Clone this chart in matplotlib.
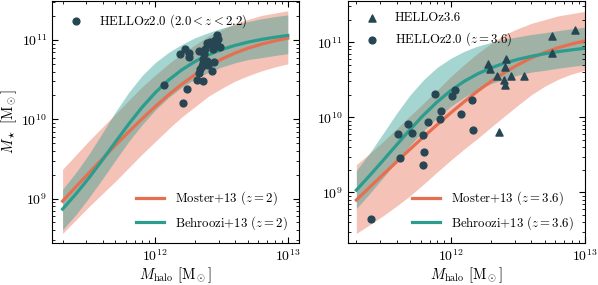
import numpy as np
import matplotlib
matplotlib.use("Agg")
import matplotlib.pyplot as plt

plt.rcParams["font.family"] = "serif"
plt.rcParams["font.serif"] = ["cmr10", "DejaVu Serif"]
plt.rcParams["mathtext.fontset"] = "cm"
plt.rcParams["axes.formatter.use_mathtext"] = True

ORANGE = "#e76f51"
TEAL = "#2a9d8f"
DARK = "#264653"

# halo mass grid (log10 Msun) shared by all model curves
log_mh = [11.3, 11.4, 11.5, 11.6, 11.7, 11.8, 11.9, 12.0, 12.1,
          12.2, 12.3, 12.4, 12.5, 12.6, 12.7, 12.8, 12.9, 13.0]

# z = 2 panel: log10 stellar mass
moster_z2 = [8.968, 9.147, 9.325, 9.501, 9.674, 9.843, 10.006, 10.162, 10.309,
             10.443, 10.564, 10.670, 10.760, 10.835, 10.897, 10.948, 10.989, 11.024]
moster_z2_hi = [9.37, 9.55, 9.73, 9.90, 10.07, 10.24, 10.41, 10.56, 10.70,
                10.83, 10.94, 11.05, 11.13, 11.21, 11.26, 11.31, 11.34, 11.37]
moster_z2_lo = [8.56, 8.73, 8.90, 9.06, 9.22, 9.39, 9.56, 9.72, 9.88,
                10.03, 10.16, 10.29, 10.39, 10.48, 10.55, 10.61, 10.66, 10.70]
behroozi_z2 = [8.867, 9.057, 9.263, 9.486, 9.716, 9.942, 10.152, 10.337, 10.495,
               10.625, 10.730, 10.813, 10.880, 10.932, 10.974, 11.008, 11.035, 11.058]
behroozi_z2_hi = [9.117, 9.327, 9.563, 9.826, 10.096, 10.342, 10.552, 10.717, 10.845,
                  10.945, 11.030, 11.093, 11.150, 11.192, 11.234, 11.268, 11.295, 11.318]
behroozi_z2_lo = [8.607, 8.797, 9.013, 9.246, 9.486, 9.722, 9.932, 10.117, 10.275,
                  10.405, 10.510, 10.593, 10.660, 10.712, 10.754, 10.778, 10.805, 10.828]

# z = 3.6 panel
moster_z36 = [8.900, 9.071, 9.241, 9.410, 9.577, 9.741, 9.901, 10.057, 10.206,
              10.347, 10.477, 10.595, 10.699, 10.789, 10.864, 10.926, 10.976, 11.018]
moster_z36_hi = [9.37, 9.52, 9.68, 9.85, 10.02, 10.19, 10.36, 10.54, 10.70,
                 10.85, 10.98, 11.10, 11.18, 11.25, 11.30, 11.35, 11.38, 11.41]
moster_z36_lo = [8.455, 8.571, 8.691, 8.820, 8.957, 9.111, 9.271, 9.427, 9.576,
                 9.717, 9.867, 10.015, 10.159, 10.299, 10.414, 10.506, 10.576, 10.628]
behroozi_z36 = [9.032, 9.227, 9.429, 9.635, 9.839, 10.031, 10.204, 10.353, 10.477,
                10.577, 10.657, 10.721, 10.771, 10.812, 10.846, 10.874, 10.898, 10.920]
behroozi_z36_hi = [9.292, 9.527, 9.789, 10.055, 10.299, 10.501, 10.664, 10.783, 10.877,
                   10.947, 10.997, 11.041, 11.071, 11.102, 11.126, 11.154, 11.178, 11.200]
behroozi_z36_lo = [8.787, 8.987, 9.199, 9.415, 9.629, 9.821, 9.994, 10.143, 10.267,
                   10.367, 10.447, 10.511, 10.561, 10.602, 10.626, 10.654, 10.678, 10.700]

# HELLO galaxies, 2.0 < z < 2.2 (log10 Mhalo, log10 Mstar)
hello_z2_mh = [12.066, 12.186, 12.224, 12.252, 12.257, 12.211, 12.237, 12.317, 12.362,
               12.332, 12.337, 12.368, 12.358, 12.388, 12.413, 12.377, 12.426, 12.438,
               12.443, 12.426, 12.362, 12.388, 12.350, 12.400, 12.463, 12.475, 12.468,
               12.488, 12.453, 12.332]
hello_z2_ms = [10.432, 10.823, 10.886, 10.840, 10.790, 10.201, 10.378, 10.495, 10.486,
               10.865, 10.630, 10.823, 10.756, 10.958, 10.979, 10.883, 10.937, 10.883,
               10.726, 10.613, 10.706, 10.739, 10.672, 10.685, 11.063, 11.009, 10.937,
               10.915, 11.000, 10.580]

# HELLOz2.0 run at z = 3.6
hello_z2at36_mh = [11.411, 11.612, 11.625, 11.682, 11.714, 11.798, 11.805, 11.798, 11.830,
                   11.883, 11.922, 11.932, 12.011, 12.036, 12.078, 12.158, 12.165]
hello_z2at36_ms = [8.641, 9.783, 9.465, 9.916, 9.792, 9.761, 9.539, 9.363, 9.938,
                   10.315, 9.983, 10.084, 10.283, 10.368, 10.040, 10.235, 9.827]

# HELLOz3.6
hello_z36_mh = [12.281, 12.294, 12.343, 12.413, 12.403, 12.400, 12.403, 12.448, 12.546,
                12.361, 12.752, 12.757, 12.928]
hello_z36_ms = [10.704, 10.647, 10.545, 10.780, 10.668, 10.491, 10.425, 10.545, 10.545,
                9.805, 11.076, 10.859, 11.165]


def p(v):
    return 10 ** np.asarray(v)


fig = plt.figure(figsize=(5.98, 2.85), dpi=100)
ax1 = fig.add_axes([0.087, 0.147, 0.413, 0.851])
ax2 = fig.add_axes([0.5814, 0.147, 0.3969, 0.851])

mh = p(log_mh)

panels = [
    (ax1, moster_z2, moster_z2_lo, moster_z2_hi, behroozi_z2, behroozi_z2_lo, behroozi_z2_hi, "2"),
    (ax2, moster_z36, moster_z36_lo, moster_z36_hi, behroozi_z36, behroozi_z36_lo, behroozi_z36_hi, "3.6"),
]
for ax, mo, mo_lo, mo_hi, be, be_lo, be_hi, zlab in panels:
    ax.fill_between(mh, p(mo_lo), p(mo_hi), color=ORANGE, alpha=0.42, lw=0)
    ax.fill_between(mh, p(be_lo), p(be_hi), color=TEAL, alpha=0.42, lw=0)
    l1, = ax.plot(mh, p(mo), color=ORANGE, lw=2.3, label=r"Moster+13 $(z=%s)$" % zlab)
    l2, = ax.plot(mh, p(be), color=TEAL, lw=2.3, label=r"Behroozi+13 $(z=%s)$" % zlab)
    ax.set_xscale("log")
    ax.set_yscale("log")
    ax.tick_params(which="both", direction="in", top=True, right=True, labelsize=10)
    ax.tick_params(which="major", length=4)
    ax.tick_params(which="minor", length=2)
    ax.set_xlabel(r"$M_\mathrm{halo}\ [\mathrm{M}_\odot]$", fontsize=10.5, labelpad=1)
    leg = ax.legend(handles=[l1, l2], loc="lower right", frameon=False, fontsize=9.2,
                    handlelength=2.2)
    ax.add_artist(leg)

s1 = ax1.scatter(p(hello_z2_mh), p(hello_z2_ms), s=24, color=DARK, zorder=5,
                 label=r"HELLOz2.0 $(2.0<z<2.2)$")
ax1.legend(handles=[s1], loc="upper left", frameon=False, fontsize=9.2)
ax1.set_xlim(1.66e11, 1.215e13)
ax1.set_ylim(2.74e8, 3.15e11)
ax1.set_ylabel(r"$M_\star\ [\mathrm{M}_\odot]$", fontsize=10.5, labelpad=2)

t = ax2.scatter(p(hello_z36_mh), p(hello_z36_ms), s=26, marker="^", color=DARK, zorder=5,
                label="HELLOz3.6")
c = ax2.scatter(p(hello_z2at36_mh), p(hello_z2at36_ms), s=24, color=DARK, zorder=5,
                label=r"HELLOz2.0 $(z=3.6)$")
ax2.legend(handles=[t, c], loc="upper left", frameon=False, fontsize=9.2)
ax2.set_xlim(1.72e11, 1.0e13)
ax2.set_ylim(2.12e8, 3.58e11)

fig.savefig("out.png", dpi=100)
